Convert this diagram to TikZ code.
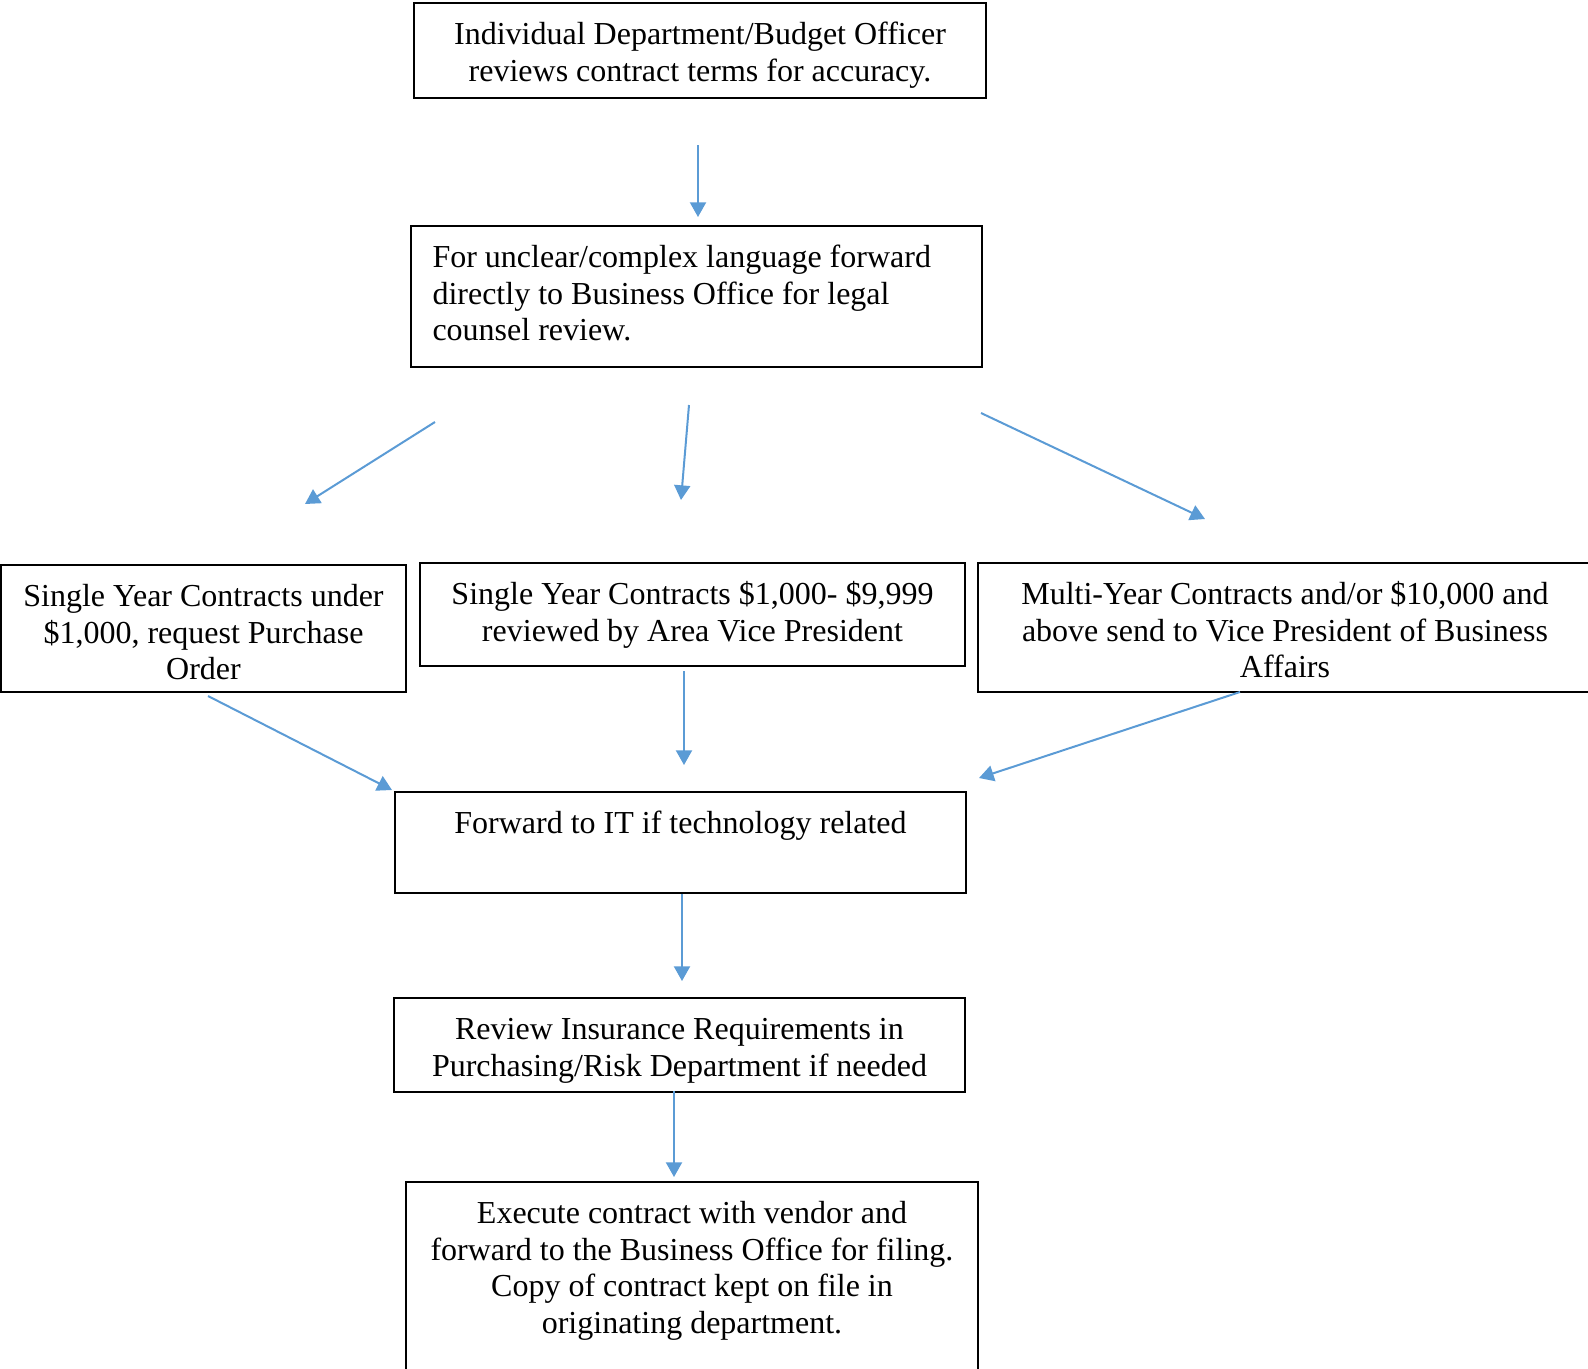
\documentclass[tikz,border=0pt]{standalone}
\usepackage{fontspec}
\setmainfont{Liberation Serif}
\usetikzlibrary{arrows.meta}
\definecolor{flowblue}{RGB}{91,155,213}
\tikzset{
  box/.style={draw,line width=.75pt,anchor=north,align=flush center,inner sep=0pt,text height=15.5pt,font=\fontsize{12}{13.8}\selectfont},
  flow/.style={draw=flowblue,line width=.75pt,-{Triangle[length=5.5pt,width=6pt]}}
}
\begin{document}
\begin{tikzpicture}[x=.375pt,y=-.375pt]
\useasboundingbox (0,0) rectangle (1588,1369);
\node[box,text width=214.5pt,text depth=20.1pt] (dept) at (700,2) {Individual Department/Budget Officer\\reviews contract terms for accuracy.};
\node[box,align=flush left,text width=198pt,inner xsep=8pt,text depth=37.4pt] (legal) at (696.5,225) {For unclear/complex language forward\\directly to Business Office for legal\\counsel review.};
\node[box,text width=151.9pt,text depth=32.1pt] (under) at (203.5,564) {Single Year Contracts under\\\$1,000, request Purchase\\Order};
\node[box,text width=204.4pt,text depth=23.1pt] (avp) at (692.5,562) {Single Year Contracts \$1,000- \$9,999\\reviewed by Area Vice President};
\node[box,text width=230.3pt,text depth=32.9pt] (multi) at (1285,562) {Multi-Year Contracts and/or \$10,000 and\\above send to Vice President of Business\\Affairs};
\node[box,text width=214.1pt,text depth=22.4pt] (it) at (680.5,791) {Forward to IT if technology related};
\node[box,text width=214.1pt,text depth=19.8pt] (ins) at (679.5,997) {Review Insurance Requirements in\\Purchasing/Risk Department if needed};
\node[box,text width=214.5pt,text depth=64.75pt] (exec) at (692,1181) {Execute contract with vendor and\\forward to the Business Office for filing.\\Copy of contract kept on file in\\originating department.};
% arrow ends
\coordinate (a1) at (698,145);\coordinate (b1) at (698,217);
\coordinate (a2) at (435,422);\coordinate (b2) at (305,504);
\coordinate (a3) at (689,405);\coordinate (b3) at (681,500);
\coordinate (a4) at (981,413);\coordinate (b4) at (1205,519);
\coordinate (a5) at (208,696);\coordinate (b5) at (392,790);
\coordinate (a6) at (684,671);\coordinate (b6) at (684,765);
\coordinate (a7) at (1240,692);\coordinate (b7) at (979,778);
\coordinate (a8) at (682,894);\coordinate (b8) at (682,981);
\coordinate (a9) at (674,1091);\coordinate (b9) at (674,1177);
\foreach \i in {1,...,9} \draw[flow] (a\i)--(b\i);
\end{tikzpicture}
\end{document}
